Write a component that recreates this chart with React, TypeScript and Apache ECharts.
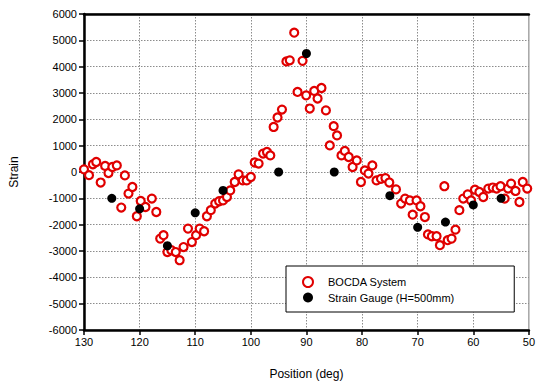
import React, { useEffect, useRef } from "react";
import * as echarts from "echarts";

// BOCDA distributed strain readings along the circumference
const bocdaPosition = [
  130, 129.1, 128.4, 127.8, 127.0, 126.2, 125.6, 124.9, 124.1, 123.3, 122.65, 122.0, 121.3, 120.5,
  119.8, 118.95, 117.8, 117.0, 116.3, 115.7, 115.0, 114.3, 113.5, 112.8, 112.1, 111.3, 110.6, 109.85,
  109.2, 108.4, 107.9, 107.2, 106.4, 105.7, 105.0, 104.3, 103.7, 102.9, 102.2, 101.45, 100.75, 100.0,
  99.3, 98.6, 97.8, 97.1, 96.5, 95.9, 95.2, 94.4, 93.6, 93.0, 92.2, 91.6, 90.7, 90.05, 89.4, 88.6,
  88.0, 87.3, 86.5, 85.8, 85.1, 84.5, 83.7, 83.1, 82.4, 81.7, 80.95, 80.2, 79.5, 78.85, 78.15, 77.4,
  76.6, 75.8, 75.1, 73.9, 72.97, 72.26, 71.4, 70.9, 70.2, 69.5, 68.7, 68.15, 67.45, 66.6, 66.0, 65.2,
  64.6, 63.9, 63.2, 62.5, 61.8, 61.0, 60.4, 59.7, 58.9, 58.2, 57.3, 56.5, 55.8, 55.1, 54.35, 53.75,
  53.2, 52.4, 51.7, 51.1, 50.3,
];
const bocdaStrain = [
  100, -120, 290, 380, -400, 230, -40, 190, 250, -1350, -130, -820, -570, -1680,
  -1100, -1330, -1010, -1520, -2530, -2400, -3040, -2970, -3040, -3350, -2850, -2150, -2660, -2400,
  -2150, -2250, -1680, -1450, -1200, -1110, -1080, -950, -700, -380, -90, -320, -320, -190,
  360, 320, 700, 760, 630, 1710, 2070, 2370, 4200, 4240, 5290, 3040, 4220, 2910, 2410, 3080,
  2790, 3190, 2340, 1010, 1740, 1390, 630, 800, 570, 190, 440, -380, 60, -60, 250, -320,
  -260, -230, -400, -660, -1200, -1010, -1080, -1620, -1080, -1300, -1710, -2370, -2440, -2440, -2780, -540,
  -2590, -2530, -2190, -1450, -1010, -850, -1080, -670, -760, -950, -630, -590, -630, -540, -1010, -630,
  -440, -720, -1140, -380, -630,
];

// Electrical strain gauge readings (H=500mm)
const gaugePosition = [125, 120, 115, 110, 105, 95, 90, 85, 75, 70, 65, 60, 55];
const gaugeStrain = [-1000, -1400, -2800, -1550, -700, 0, 4500, 0, -900, -2100, -1900, -1250, -1000];

const xTicks = { min: 50, max: 130, interval: 10 };
const yTicks = { min: -6000, max: 6000, interval: 1000 };

const FONT = "'Liberation Sans', Arial, sans-serif";

export default function App() {
  const ref = useRef<HTMLDivElement>(null);

  useEffect(() => {
    if (!ref.current) return;
    const chart = echarts.init(ref.current, null, { renderer: "svg" });

    const bocda = bocdaPosition.map((p, i) => [p, bocdaStrain[i]]);
    const gauge = gaugePosition.map((p, i) => [p, gaugeStrain[i]]);

    const gridLine = {
      show: true,
      showMinLine: false,
      showMaxLine: false,
      lineStyle: { color: "#8c8c8c", type: [1.5, 1.5], width: 1 },
    };

    chart.setOption({
      animation: false,
      backgroundColor: "#ffffff",
      textStyle: { fontFamily: FONT },
      grid: {
        left: 79,
        right: 6,
        top: 14,
        bottom: 57,
        show: true,
        borderColor: "#777",
        borderWidth: 1,
      },
      legend: {
        left: 286,
        top: 266,
        width: 195,
        orient: "vertical",
        backgroundColor: "#ffffff",
        borderColor: "#000",
        borderWidth: 1,
        padding: [10, 60, 9, 16],
        itemGap: 4,
        itemWidth: 10,
        itemHeight: 10,
        textStyle: { fontFamily: FONT, fontSize: 11, color: "#000", padding: [0, 0, 0, 10] },
        data: [
          { name: "BOCDA System", icon: "circle" },
          { name: "Strain Gauge (H=500mm)", icon: "circle" },
        ],
      },
      xAxis: [
        {
          type: "value",
          inverse: true,
          min: xTicks.min,
          max: xTicks.max,
          interval: xTicks.interval,
          name: "Position (deg)",
          nameLocation: "middle",
          nameGap: 38,
          nameTextStyle: { fontFamily: FONT, fontSize: 12, color: "#000" },
          axisLine: { show: true, onZero: false, lineStyle: { color: "#000", width: 2.5 } },
          axisTick: { show: true, inside: false, length: 5, lineStyle: { color: "#000", width: 1.5 } },
          axisLabel: { fontFamily: FONT, fontSize: 11, color: "#000", margin: 6 },
          splitLine: gridLine,
        },
        {
          type: "value",
          position: "top",
          inverse: true,
          min: xTicks.min,
          max: xTicks.max,
          interval: xTicks.interval,
          axisLine: { show: true, onZero: false, lineStyle: { color: "#000", width: 2.5 } },
          axisTick: { show: false },
          axisLabel: { show: false },
          splitLine: { show: false },
        },
      ],
      yAxis: {
        type: "value",
        min: yTicks.min,
        max: yTicks.max,
        interval: yTicks.interval,
        name: "Strain",
        nameLocation: "middle",
        nameGap: 64,
        nameTextStyle: { fontFamily: FONT, fontSize: 12, color: "#000" },
        axisLine: { show: true, onZero: false, lineStyle: { color: "#000", width: 2.5 } },
        axisTick: { show: true, inside: false, length: 5, lineStyle: { color: "#000", width: 1.5 } },
        axisLabel: {
          fontFamily: FONT,
          fontSize: 11,
          color: "#000",
          margin: 7,
          formatter: (v: number) => String(v),
        },
        splitLine: gridLine,
      },
      series: [
        {
          name: "BOCDA System",
          type: "scatter",
          data: bocda,
          symbol: "circle",
          symbolSize: 8,
          clip: false,
          itemStyle: { color: "#ffffff", borderColor: "#e00000", borderWidth: 2.2, opacity: 1 },
          z: 3,
        },
        {
          name: "Strain Gauge (H=500mm)",
          type: "scatter",
          data: gauge,
          symbol: "circle",
          symbolSize: 9,
          clip: false,
          itemStyle: { color: "#000000", opacity: 1 },
          z: 4,
        },
      ],
    });

    return () => chart.dispose();
  }, []);

  return <div ref={ref} style={{ width: 538, height: 387, position: "absolute", left: 0, top: 0 }} />;
}
